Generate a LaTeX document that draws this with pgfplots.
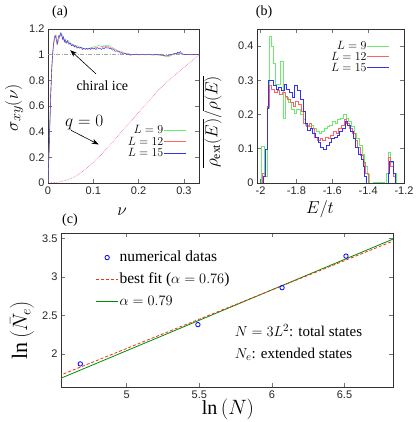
\documentclass[border=0pt]{standalone}
\usepackage{fontspec}
\setmainfont{Liberation Serif}
\setsansfont{Liberation Sans}
\usepackage{pgfplots}
\pgfplotsset{compat=1.18}
\usetikzlibrary{arrows.meta}

\definecolor{cgreen}{RGB}{110,235,110}
\definecolor{cred}{RGB}{255,100,100}
\definecolor{cblue}{RGB}{50,50,240}
\definecolor{fitred}{RGB}{240,50,20}
\definecolor{fitgreen}{RGB}{0,140,0}

\pgfplotsset{
  gp/.style={
    scale only axis,
    axis line style={black!80},
    tick style={black!55, semithick},
    major tick length=4pt,
    tick align=inside,
    tick pos=both,
    tick label style={font=\sffamily\fontsize{11}{12}\selectfont, text=black!85},
    /pgf/number format/assume math mode=true,
  },
  % legend keys with their colours written in
  leggreen/.style={legend image code/.code={\draw[cgreen, line width=0.6pt] (0pt,0pt) -- (22pt,0pt);}},
  legred/.style={legend image code/.code={\draw[cred, line width=0.6pt] (0pt,0pt) -- (22pt,0pt);}},
  legblue/.style={legend image code/.code={\draw[cblue, line width=0.6pt] (0pt,0pt) -- (22pt,0pt);}},
  legcirc/.style={legend image code/.code={\draw[blue, thick] (11pt,0pt) circle (2.2pt);}},
  legfitred/.style={legend image code/.code={\draw[fitred, thick, densely dashed] (0pt,0pt) -- (22pt,0pt);}},
  legfitgreen/.style={legend image code/.code={\draw[fitgreen, thick] (0pt,0pt) -- (22pt,0pt);}},
}

\begin{document}
\begin{tikzpicture}
\useasboundingbox (0,0) rectangle (415pt,422pt);

% ---------- (a) ----------
\begin{axis}[gp,
  at={(48pt,239pt)}, anchor=south west,
  width=151pt, height=154pt,
  xmin=0, xmax=0.3333, ymin=0, ymax=1.2,
  xtick={0,0.1,0.2,0.3}, ytick={0,0.2,...,1.2},
  yticklabel style={/pgf/number format/fixed},
  legend plot pos=right,
  legend cell align=right,
  legend style={at={(0.94,0.14)}, anchor=south east, draw=none, fill=none,
    font=\fontsize{12.5}{12.5}\selectfont, row sep=0.5pt,
    nodes={inner sep=0.8pt}},
]
\addplot[gray!70, thin, dash pattern=on 4pt off 1.5pt on 1pt off 1.5pt, forget plot]
  coordinates {(0,1) (0.3333,1)};
\addplot[magenta!65, densely dotted, semithick, forget plot] coordinates {
  (0,0) (0.02,0.005) (0.04,0.02) (0.06,0.05) (0.08,0.10) (0.10,0.16)
  (0.12,0.23) (0.14,0.31) (0.16,0.39) (0.18,0.47) (0.20,0.55) (0.22,0.63)
  (0.24,0.71) (0.26,0.78) (0.28,0.84) (0.30,0.90) (0.3333,1.0)};
\addplot[color=cgreen, thin, leggreen] coordinates {
  (0,0) (0.003,0.35) (0.006,0.7) (0.009,0.95) (0.012,1.08) (0.015,1.15)
  (0.018,1.13) (0.021,1.09) (0.024,1.14) (0.027,1.16) (0.030,1.17) (0.033,1.14)
  (0.036,1.12) (0.040,1.10) (0.045,1.11) (0.050,1.09) (0.055,1.08) (0.060,1.07)
  (0.065,1.07) (0.070,1.06) (0.075,1.055) (0.080,1.05) (0.085,1.05) (0.090,1.05)
  (0.095,1.055) (0.100,1.06) (0.105,1.065) (0.110,1.07) (0.115,1.075) (0.120,1.075)
  (0.125,1.07) (0.130,1.07) (0.135,1.07) (0.140,1.06) (0.145,1.05) (0.150,1.04)
  (0.155,1.03) (0.160,1.025) (0.165,1.02) (0.170,1.01) (0.180,1.005) (0.190,1.0)
  (0.200,1.0) (0.210,1.0) (0.220,1.0) (0.230,0.998) (0.240,1.0) (0.250,0.995)
  (0.255,0.99) (0.260,0.985) (0.265,0.982) (0.270,0.99) (0.275,1.0) (0.280,1.005)
  (0.285,1.01) (0.290,1.01) (0.295,1.005) (0.300,1.0) (0.310,1.0) (0.3333,1.0)};
\addlegendentry{$L=9$}
\addplot[color=cred, thin, legred] coordinates {
  (0,0) (0.003,0.3) (0.006,0.65) (0.009,0.92) (0.012,1.07) (0.015,1.13)
  (0.018,1.15) (0.021,1.08) (0.024,1.12) (0.027,1.15) (0.030,1.16) (0.033,1.12)
  (0.036,1.11) (0.040,1.09) (0.045,1.10) (0.050,1.08) (0.055,1.07) (0.060,1.07)
  (0.065,1.06) (0.070,1.055) (0.075,1.05) (0.080,1.045) (0.085,1.045) (0.090,1.05)
  (0.095,1.045) (0.100,1.05) (0.105,1.055) (0.110,1.06) (0.115,1.06) (0.120,1.065)
  (0.125,1.06) (0.130,1.065) (0.135,1.06) (0.140,1.05) (0.145,1.045) (0.150,1.035)
  (0.155,1.03) (0.160,1.02) (0.165,1.015) (0.170,1.01) (0.180,1.005) (0.190,1.0)
  (0.200,1.0) (0.220,1.0) (0.240,0.998) (0.250,0.995) (0.260,0.99) (0.265,0.988)
  (0.270,0.995) (0.280,1.005) (0.290,1.015) (0.295,1.005) (0.300,1.0) (0.3333,1.0)};
\addlegendentry{$L=12$}
\addplot[color=cblue, thin, legblue] coordinates {
  (0,0) (0.002,0.2) (0.004,0.45) (0.006,0.7) (0.008,0.88) (0.010,1.0)
  (0.012,1.08) (0.014,1.13) (0.016,1.15) (0.018,1.12) (0.020,1.08) (0.022,1.12)
  (0.024,1.15) (0.026,1.14) (0.028,1.17) (0.030,1.15) (0.032,1.12) (0.034,1.14)
  (0.036,1.10) (0.038,1.12) (0.040,1.09) (0.043,1.11) (0.046,1.08) (0.049,1.09)
  (0.052,1.07) (0.055,1.08) (0.058,1.06) (0.061,1.07) (0.064,1.05) (0.067,1.06)
  (0.070,1.05) (0.073,1.06) (0.076,1.04) (0.079,1.05) (0.082,1.04) (0.085,1.05)
  (0.088,1.04) (0.091,1.05) (0.094,1.04) (0.097,1.055) (0.100,1.045) (0.103,1.05)
  (0.106,1.04) (0.109,1.055) (0.112,1.045) (0.115,1.05) (0.118,1.04) (0.121,1.055)
  (0.124,1.045) (0.127,1.06) (0.130,1.05) (0.133,1.055) (0.136,1.045) (0.139,1.05)
  (0.142,1.035) (0.145,1.04) (0.148,1.025) (0.151,1.03) (0.154,1.02) (0.157,1.025)
  (0.160,1.01) (0.163,1.015) (0.166,1.005) (0.170,1.01) (0.174,1.0) (0.178,1.005)
  (0.182,0.995) (0.186,1.0) (0.190,1.0) (0.195,1.005) (0.200,0.998) (0.205,1.0)
  (0.210,1.002) (0.215,0.998) (0.220,1.0) (0.225,1.002) (0.230,0.997) (0.235,1.0)
  (0.240,1.0) (0.245,1.0) (0.250,0.998) (0.255,0.995) (0.260,0.99) (0.265,0.993)
  (0.270,1.0) (0.275,1.005) (0.280,1.01) (0.283,1.005) (0.286,1.02) (0.289,1.01)
  (0.292,1.025) (0.295,1.01) (0.298,1.005) (0.302,1.0) (0.310,1.002) (0.320,1.0)
  (0.3333,1.0)};
\addlegendentry{$L=15$}
\draw[-{Stealth[length=7pt,width=5pt]}, semithick] (axis cs:0.106,0.85) -- (axis cs:0.049,1.035);
\draw[-{Stealth[length=7pt,width=5pt]}, semithick] (axis cs:0.051,0.41) -- (axis cs:0.112,0.30);
\node[font=\fontsize{14}{14}\selectfont] at (axis cs:0.12,0.755) {chiral ice};
\node[font=\fontsize{16}{16}\selectfont] at (axis cs:0.08,0.47) {$q=0$};
\end{axis}

% ---------- (b) ----------
\begin{axis}[gp,
  at={(257pt,239pt)}, anchor=south west,
  width=147pt, height=154pt,
  xmin=-2.02, xmax=-1.2, ymin=0, ymax=0.45,
  xtick={-2,-1.8,-1.6,-1.4,-1.2}, ytick={0,0.1,0.2,0.3,0.4},
  yticklabel style={/pgf/number format/fixed},
  legend plot pos=right,
  legend cell align=right,
  legend style={at={(0.925,0.94)}, anchor=north east, draw=none, fill=none,
    font=\fontsize{12.5}{12.5}\selectfont, row sep=0pt,
    nodes={inner sep=0.6pt}},
]
\addplot[color=cgreen, thin, const plot, leggreen] coordinates {
  (-2.02,0) (-1.995,0.107) (-1.978,0.02) (-1.963,0.22) (-1.954,0.43) (-1.94,0.40)
  (-1.93,0.35) (-1.92,0.29) (-1.89,0.355) (-1.875,0.19) (-1.86,0.25) (-1.845,0.235)
  (-1.83,0.215) (-1.81,0.205) (-1.80,0.215) (-1.78,0.20) (-1.765,0.185) (-1.75,0.17)
  (-1.735,0.165) (-1.72,0.17) (-1.705,0.16) (-1.69,0.15) (-1.675,0.145) (-1.66,0.15)
  (-1.645,0.16) (-1.63,0.165) (-1.615,0.17) (-1.60,0.18) (-1.585,0.175) (-1.57,0.185)
  (-1.555,0.19) (-1.54,0.20) (-1.525,0.19) (-1.51,0.18) (-1.495,0.165) (-1.48,0.145)
  (-1.465,0.13) (-1.45,0.11) (-1.435,0.085) (-1.42,0.05) (-1.405,0.025) (-1.395,0)
  (-1.37,0.003) (-1.31,0) (-1.30,0.03) (-1.29,0.09) (-1.275,0.06) (-1.26,0.03)
  (-1.245,0) (-1.2,0)};
\addlegendentry{$L=9$}
\addplot[color=cred, thin, const plot, legred] coordinates {
  (-2.02,0) (-1.99,0.03) (-1.975,0.1) (-1.962,0.225) (-1.952,0.285) (-1.94,0.275)
  (-1.925,0.265) (-1.91,0.27) (-1.895,0.26) (-1.88,0.265) (-1.865,0.255) (-1.85,0.245)
  (-1.835,0.235) (-1.82,0.225) (-1.805,0.24) (-1.79,0.23) (-1.775,0.21) (-1.76,0.175)
  (-1.745,0.165) (-1.73,0.175) (-1.715,0.16) (-1.70,0.135) (-1.685,0.125) (-1.67,0.13)
  (-1.655,0.125) (-1.64,0.135) (-1.625,0.13) (-1.61,0.14) (-1.595,0.15) (-1.58,0.145)
  (-1.565,0.16) (-1.55,0.17) (-1.535,0.185) (-1.52,0.175) (-1.505,0.16) (-1.49,0.145)
  (-1.475,0.125) (-1.46,0.105) (-1.445,0.08) (-1.43,0.06) (-1.415,0.03) (-1.40,0)
  (-1.29,0.075) (-1.275,0.05) (-1.26,0.02) (-1.25,0) (-1.2,0)};
\addlegendentry{$L=12$}
\addplot[color=cblue, thin, const plot, legblue] coordinates {
  (-2.02,0) (-1.985,0.02) (-1.975,0.1) (-1.965,0.22) (-1.955,0.30) (-1.93,0.285)
  (-1.915,0.275) (-1.90,0.28) (-1.885,0.27) (-1.87,0.29) (-1.855,0.275) (-1.84,0.265)
  (-1.825,0.25) (-1.81,0.285) (-1.795,0.27) (-1.78,0.245) (-1.765,0.21) (-1.75,0.175)
  (-1.74,0.155) (-1.725,0.16) (-1.71,0.145) (-1.695,0.135) (-1.68,0.12) (-1.665,0.105)
  (-1.65,0.10) (-1.635,0.11) (-1.62,0.12) (-1.605,0.13) (-1.59,0.135) (-1.575,0.14)
  (-1.56,0.15) (-1.545,0.16) (-1.53,0.18) (-1.515,0.17) (-1.50,0.15) (-1.485,0.13)
  (-1.47,0.105) (-1.455,0.085) (-1.44,0.07) (-1.43,0.05) (-1.42,0.02) (-1.41,0)
  (-1.29,0.03) (-1.28,0.065) (-1.26,0.03) (-1.25,0) (-1.2,0)};
\addlegendentry{$L=15$}
\end{axis}

% ---------- (c) ----------
\begin{axis}[gp,
  at={(61pt,35pt)}, anchor=south west,
  width=332pt, height=154pt,
  xmin=4.547, xmax=6.834, ymin=1.57, ymax=3.57,
  xtick={5,5.5,6,6.5}, ytick={2,2.5,3,3.5},
  legend cell align=left,
  legend style={at={(0.095,0.91)}, anchor=north west, draw=none, fill=none,
    font=\fontsize{15.5}{15.5}\selectfont, row sep=5pt,
    nodes={inner sep=1pt, text height=11pt, text depth=4pt}},
]
\addplot[only marks, mark=o, mark size=2.2pt, color=blue, thick, legcirc] coordinates {
  (4.68,1.87) (5.49,2.38) (6.07,2.86) (6.51,3.27)};
\addlegendentry{numerical datas}
\addplot[color=fitgreen, thick, forget plot] coordinates {(4.5,1.647) (6.9,3.543)};
\addplot[color=fitred, thick, densely dashed, legfitred] coordinates {(4.5,1.691) (6.9,3.515)};
\addlegendentry{best fit ($\alpha=0.76$)}
\addlegendimage{legfitgreen}
\addlegendentry{$\alpha=0.79$}
\node[anchor=west, font=\fontsize{15}{15}\selectfont] at (axis cs:5.72,2.30) {$N=3L^2$: total states};
\node[anchor=west, font=\fontsize{15}{15}\selectfont] at (axis cs:5.72,2.0) {$N_e$: extended states};
\end{axis}

% ---------- labels ----------
\node[font=\fontsize{14}{14}\selectfont] at (60pt,410pt) {(a)};
\node[font=\fontsize{14}{14}\selectfont] at (264pt,410pt) {(b)};
\node[font=\fontsize{14}{14}\selectfont] at (70pt,202pt) {(c)};
\node[font=\fontsize{16}{16}\selectfont] at (122pt,210pt) {$\nu$};
\node[font=\fontsize{16}{16}\selectfont] at (320pt,213pt) {$E/t$};
\node[rotate=90, font=\fontsize{19}{19}\selectfont] at (14pt,314pt) {$\sigma_{xy}(\nu)$};
\node[rotate=90, font=\fontsize{16.5}{16.5}\selectfont] at (212pt,300pt) {$\overline{\rho_{\mathrm{ext}}(E)}/\overline{\rho(E)}$};
\node[rotate=90, font=\fontsize{22}{22}\selectfont] at (22pt,92pt) {$\ln\left(\bar{N}_e\right)$};
\node[font=\fontsize{20}{20}\selectfont] at (228pt,13pt) {$\ln\left(N\right)$};
\end{tikzpicture}
\end{document}
